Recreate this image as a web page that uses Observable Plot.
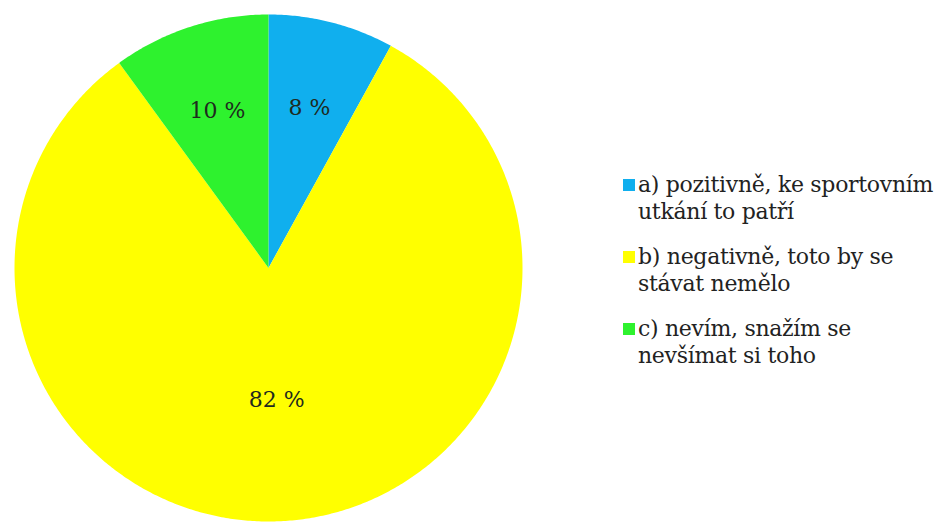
<!DOCTYPE html>
<html>
<head>
<meta charset="utf-8">
<script src="https://cdn.jsdelivr.net/npm/d3@7"></script>
<script src="https://cdn.jsdelivr.net/npm/@observablehq/plot@0.6"></script>
<style>
  body { margin: 0; background: #fff; }
  #wrap { position: relative; width: 944px; height: 523px; overflow: hidden; }
  #legend { position: absolute; left: 0; top: 0; font-family: "DejaVu Serif", "Liberation Serif", serif; font-size: 22px; color: #222; letter-spacing: -0.3px; }
  .item { position: absolute; left: 638px; line-height: 27px; white-space: nowrap; }
  .sw { position: absolute; left: -15px; top: 8px; width: 12px; height: 12px; }
</style>
</head>
<body>
<div id="wrap"><div id="chart"></div><div id="legend"></div></div>
<script>
// ---- data ----
const categories = ["a", "b", "c"];
const values = [8, 82, 10];
const percentLabels = ["8 %", "82 %", "10 %"];
const colors = ["#10AFEE", "#FFFF00", "#2EF22E"];
const legendLines = [
  ["a) pozitivně, ke sportovním", "utkání to patří"],
  ["b) negativně, toto by se", "stávat nemělo"],
  ["c) nevím, snažím se", "nevšímat si toho"]
];

// ---- slices (angles measured clockwise from 12 o'clock) ----
const total = d3.sum(values);
let acc = 0;
const slices = categories.map((c, i) => {
  const a0 = acc / total * 2 * Math.PI;
  acc += values[i];
  const a1 = acc / total * 2 * Math.PI;
  return {cat: c, value: values[i], a0, a1, color: colors[i], label: percentLabels[i]};
});

const polyPoints = [];
slices.forEach(s => {
  polyPoints.push({cat: s.cat, x: 0, y: 0});
  const n = Math.max(4, Math.ceil((s.a1 - s.a0) / (Math.PI / 360)));
  for (let k = 0; k <= n; k++) {
    const a = s.a0 + (s.a1 - s.a0) * k / n;
    polyPoints.push({cat: s.cat, x: Math.sin(a), y: Math.cos(a)});
  }
  polyPoints.push({cat: s.cat, x: 0, y: 0});
});

const labelPts = slices.map(s => {
  const m = (s.a0 + s.a1) / 2;
  const r = s.value > 50 ? 0.52 : 0.65;
  return {label: s.label, x: r * Math.sin(m), y: r * Math.cos(m)};
});

const plot = Plot.plot({
  width: 944,
  height: 523,
  marginLeft: 14,
  marginRight: 422,
  marginTop: 14,
  marginBottom: 2,
  x: {domain: [-1, 1], axis: null},
  y: {domain: [-1, 1], axis: null},
  style: {background: "#fff"},
  marks: [
    ...slices.map(s => Plot.line(polyPoints.filter(p => p.cat === s.cat), {
      x: "x", y: "y", fill: s.color, stroke: "none", curve: "linear"
    })),
    Plot.text(labelPts, {
      x: "x", y: "y", text: "label",
      fontFamily: "'DejaVu Serif', 'Liberation Serif', serif",
      fontSize: 22, fill: "#1e2a1e", letterSpacing: -1
    })
  ]
});
document.getElementById("chart").appendChild(plot);

// ---- legend ----
const legend = d3.select("#legend");
const firstBaseline = 192, itemGap = 72;
legendLines.forEach((lines, i) => {
  const item = legend.append("div").attr("class", "item")
    .style("top", (firstBaseline + i * itemGap - 21.1) + "px");
  item.append("span").attr("class", "sw").style("background", colors[i]);
  item.html(item.html() + lines.join("<br>"));
});
</script>
</body>
</html>
